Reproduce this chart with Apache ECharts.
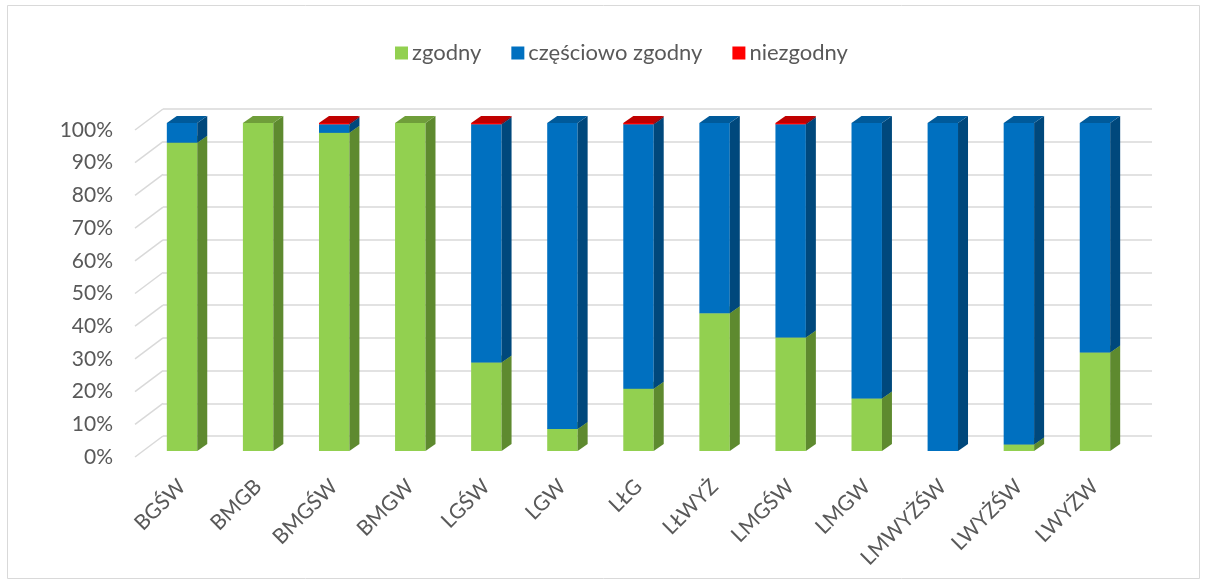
<!DOCTYPE html>
<html>
<head>
<meta charset="utf-8">
<script src="https://cdn.jsdelivr.net/npm/echarts@6/dist/echarts.min.js"></script>
<style>
  html, body { margin: 0; padding: 0; background: #fff; }
  #chart { width: 1208px; height: 583px; }
</style>
</head>
<body>
<div id="chart"></div>
<script>
'use strict';

var categories = ['BGŚW', 'BMGB', 'BMGŚW', 'BMGW', 'LGŚW', 'LGW', 'LŁG', 'LŁWYŻ', 'LMGŚW', 'LMGW', 'LMWYŻŚW', 'LWYŻŚW', 'LWYŻW'];
var zgodny = [94, 100, 97, 100, 27, 6.7, 19, 42, 34.6, 16, 0, 2, 30];
var czesciowo = [6, 0, 2.6, 0, 72.6, 93.3, 80.6, 58, 65, 84, 100, 98, 70];
var niezgodny = [0, 0, 0.4, 0, 0.4, 0, 0.4, 0, 0.4, 0, 0, 0, 0];
var yTicks = [0, 10, 20, 30, 40, 50, 60, 70, 80, 90, 100];

var seriesNames = ['zgodny', 'częściowo zgodny', 'niezgodny'];
var seriesValues = [zgodny, czesciowo, niezgodny];
// front / side / top colours
var faces = [
  ['#92d050', '#5e8a2f', '#6f9e3a'],
  ['#0070c0', '#00487c', '#005a9a'],
  ['#ff0000', '#a00000', '#c00000']
];

var DX = 10, DY = 7;
var textColor = '#595959';
var fontFamily = 'Lato, "Open Sans", sans-serif';

// stacked segments [index, from, to]
var bases = categories.map(function () { return 0; });
var stacked = seriesValues.map(function (vals) {
  var out = [];
  vals.forEach(function (v, i) {
    if (v > 0) out.push([i, bases[i], bases[i] + v]);
    bases[i] += v;
  });
  return out;
});

function boxRenderer(k) {
  return function (params, api) {
    var i = api.value(0);
    var lo = api.coord([i, api.value(1)]);
    var hi = api.coord([i, api.value(2)]);
    var w = api.size([1, 0])[0] * 0.4;
    var x0 = lo[0] - w / 2, x1 = lo[0] + w / 2;
    var yb = lo[1], yt = hi[1];
    return {
      type: 'group',
      children: [
        { type: 'rect', shape: { x: x0, y: yt, width: w, height: yb - yt }, style: { fill: faces[k][0] } },
        { type: 'polygon', shape: { points: [[x1, yt], [x1 + DX, yt - DY], [x1 + DX, yb - DY], [x1, yb]] }, style: { fill: faces[k][1] } },
        { type: 'polygon', shape: { points: [[x0, yt], [x1, yt], [x1 + DX, yt - DY], [x0 + DX, yt - DY]] }, style: { fill: faces[k][2] } }
      ]
    };
  };
}

var series = stacked.map(function (data, k) {
  return {
    name: seriesNames[k],
    type: 'custom',
    xAxisIndex: 0,
    yAxisIndex: 0,
    z: 10 + k,
    itemStyle: { color: faces[k][0] },
    encode: { x: 0, y: [1, 2] },
    renderItem: boxRenderer(k),
    data: data
  };
});

// short slanted lines joining the labels to the back wall
series.push({
  type: 'custom',
  xAxisIndex: 2,
  yAxisIndex: 2,
  silent: true,
  z: 2,
  renderItem: function (params, api) {
    var p = api.coord([0, api.value(1)]);
    return {
      type: 'line',
      shape: { x1: p[0], y1: p[1], x2: p[0] + 28, y2: p[1] - 21 },
      style: { stroke: '#d9d9d9', lineWidth: 1.5 }
    };
  },
  data: yTicks.map(function (t) { return [0, t]; })
});

var chart = echarts.init(document.getElementById('chart'));

chart.setOption({
  animation: false,
  backgroundColor: '#fff',
  graphic: [{
    type: 'rect',
    shape: { x: 7.5, y: 5.5, width: 1192, height: 573 },
    style: { fill: 'none', stroke: '#d9d9d9', lineWidth: 1 },
    silent: true
  }],
  legend: {
    data: seriesNames,
    top: 37,
    left: 390,
    icon: 'rect',
    itemWidth: 13,
    itemHeight: 13,
    itemGap: 30,
    textStyle: { color: textColor, fontSize: 22, fontFamily: fontFamily, padding: [0, 0, 0, -1] }
  },
  grid: [
    { left: 144, right: 75, top: 123, bottom: 132 },
    { left: 163, right: 56, top: 109, bottom: 147 },
    { left: 135, right: 56, top: 130, bottom: 126 }
  ],
  xAxis: [
    {
      gridIndex: 0,
      type: 'category',
      data: categories,
      axisLine: { show: false },
      axisTick: { show: false },
      axisLabel: { rotate: 45, margin: 32, color: textColor, fontSize: 21, fontFamily: fontFamily }
    },
    { gridIndex: 1, type: 'category', data: categories, show: false },
    { gridIndex: 2, type: 'value', min: 0, max: 1, show: false }
  ],
  yAxis: [
    { gridIndex: 0, type: 'value', min: 0, max: 100, show: false },
    {
      gridIndex: 1,
      type: 'value',
      min: 0,
      max: 100,
      interval: 10,
      axisLine: { show: false },
      axisTick: { show: false },
      axisLabel: { show: false },
      splitLine: { lineStyle: { color: '#d9d9d9', width: 1.5 } }
    },
    {
      gridIndex: 2,
      type: 'value',
      min: 0,
      max: 100,
      interval: 10,
      axisLine: { show: false },
      axisTick: { show: false },
      splitLine: { show: false },
      axisLabel: { margin: 22, color: textColor, fontSize: 21, fontFamily: fontFamily, formatter: '{value}%' }
    }
  ],
  series: series
});
</script>
</body>
</html>
